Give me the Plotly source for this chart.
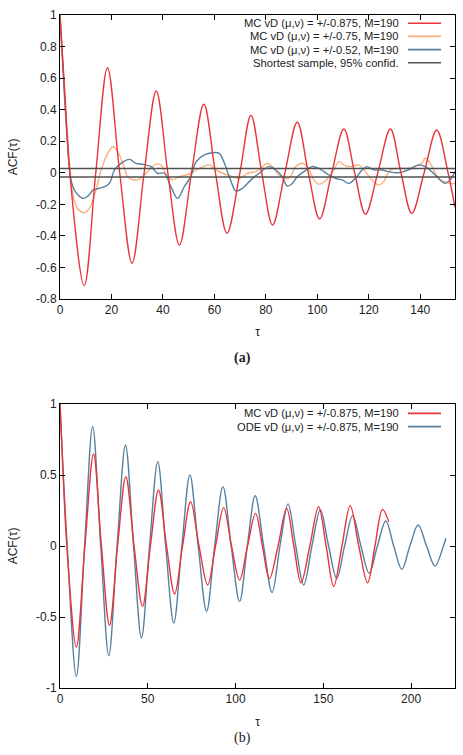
import plotly.graph_objects as go

# ---------------- data ----------------
# Panel (a)
red_a_x = [0, 1.8, 3.8, 9.4, 13.9, 18.45, 23.2, 28.0, 32.7, 37.4, 41.9, 46.4, 51.1, 55.9,
           60.4, 64.9, 69.9, 74.2, 78.4, 82.6, 87.4, 92.2, 96.5, 100.9, 105.6, 110.3,
           114.5, 118.7, 123.5, 128.4, 132.5, 136.7, 141.5, 146.4, 150.8, 153.5]
red_a_y = [1, 0.52, 0, -0.715, 0, 0.666, 0, -0.573, 0, 0.518, 0, -0.458, 0, 0.434,
           0, -0.383, 0, 0.365, 0, -0.331, 0, 0.32, 0, -0.293, 0, 0.277,
           0, -0.263, 0, 0.277, 0, -0.257, 0, 0.271, 0, -0.22]

orange_a_x = [0, 1.5, 3, 4.5, 5.5, 7, 9.5, 11, 12.1, 14, 16, 18.6, 20.5, 22.4, 24.4, 26.3,
              28.3, 30.2, 32.1, 34.7, 37.3, 39.2, 41.8, 43.7, 46.3, 48.9, 50.8, 54.2, 58,
              60.6, 63.2, 67.1, 69.7, 72.9, 76.1, 78.7, 80.6, 82.5, 85.8, 89, 91.6, 94.2,
              96.1, 98.7, 100.6, 103.2, 106.4, 108.4, 110.3, 112.9, 116.1, 118.7, 121.2,
              123.8, 125.8, 128.4, 131.6, 134.8, 138, 140.6, 141.9, 143.9, 145.8, 147.7,
              149.7, 151.6, 153.5]
orange_a_y = [1, 0.6, 0.22, -0.08, -0.17, -0.23, -0.253, -0.235, -0.204, -0.109, 0.018,
              0.124, 0.165, 0.134, 0.06, -0.025, -0.045, -0.045, -0.025, 0.018, 0.055,
              0.049, -0.025, -0.045, -0.025, -0.014, -0.003, 0.028, 0.05, 0.018, -0.003,
              -0.025, -0.035, -0.003, 0.007, 0.039, 0.06, 0.039, -0.025, -0.035, 0.039,
              0.06, 0.039, -0.045, -0.072, -0.05, 0.018, 0.071, 0.049, 0.039, 0.049, 0.007,
              -0.045, -0.077, -0.056, 0.018, 0.028, 0.028, 0.039, 0.06, 0.092, 0.06,
              -0.003, -0.045, -0.056, -0.067, -0.07]

blue_a_x = [0, 1.5, 3, 4.2, 6, 8.9, 11, 12.8, 15.4, 17.3, 19.2, 21.2, 23.7, 27, 29.5, 32.1,
            35.3, 37.9, 40.5, 43.1, 45.7, 48.3, 50.8, 52.9, 56.1, 59.3, 61.9, 63.9, 65.8,
            68.4, 70.9, 74.2, 77.4, 81.3, 83.9, 86.4, 88.3, 90.3, 92.2, 94.8, 98, 100.6,
            104.5, 107.1, 109.6, 112.2, 114.8, 117.4, 119.3, 121.9, 125.1, 127.7, 131.5,
            135.4, 139.3, 141.9, 144.5, 147.1, 149.7, 151.6, 153.5]
blue_a_y = [1, 0.55, 0.17, -0.04, -0.12, -0.162, -0.145, -0.11, -0.098, -0.088, -0.067,
            0.018, 0.06, 0.085, 0.06, 0.054, 0.04, -0.003, -0.003, -0.088, -0.162, -0.088,
            -0.025, 0.07, 0.113, 0.127, 0.123, 0.06, -0.025, -0.115, -0.098, -0.045,
            -0.003, 0.039, 0.018, -0.025, -0.084, -0.067, -0.025, 0.007, 0.039, 0.028,
            -0.014, -0.035, -0.045, -0.067, -0.035, 0.018, 0.039, 0.018, 0.018, 0.007,
            0.0, 0.018, 0.05, 0.039, 0.007, -0.035, -0.067, -0.045, 0.007]

conf_x = [0, 154]
conf_level = 0.027

# Panel (b)
mc_b_x = [0, 1.8, 3.9, 9.3, 14.2, 19.1, 23.6, 28.2, 32.8, 37.5, 42.2, 47.0, 51.5, 56.1,
          60.7, 65.3, 69.8, 74.4, 79.2, 84.1, 88.6, 93.2, 97.7, 102.3, 106.8, 111.4,
          115.3, 119.3, 124.2, 129.1, 133.2, 137.3, 142.3, 147.3, 151.6, 155.9, 160.6,
          165.3, 170.2, 175.2, 179.4, 183.7, 187.3]
mc_b_y = [1, 0.5, 0, -0.711, 0, 0.648, 0, -0.559, 0, 0.488, 0, -0.425, 0, 0.394,
          0, -0.338, 0, 0.312, 0, -0.275, 0, 0.27, 0, -0.24, 0, 0.23,
          0, -0.23, 0, 0.265, 0, -0.26, 0, 0.277, 0, -0.285, 0,
          0.284, 0, -0.26, 0, 0.258, 0.17]

ode_b_x = [0, 1.8, 4.1, 9.3, 14.0, 18.6, 23.2, 27.8, 32.5, 37.3, 41.9, 46.4, 51.0, 55.7,
           60.2, 64.8, 69.4, 74.0, 78.7, 83.5, 88.1, 92.8, 97.5, 102.3, 106.7, 111.2,
           116.0, 120.8, 125.3, 129.9, 134.3, 138.8, 143.5, 148.3, 153.0, 157.6, 162.1,
           166.7, 171.4, 176.1, 180.8, 185.6, 190.1, 194.7, 199.3, 204.0, 208.8, 213.6,
           218.4, 219.8]
ode_b_y = [1, 0.52, 0, -0.918, 0, 0.84, 0, -0.772, 0, 0.71, 0, -0.648, 0, 0.594,
           0, -0.542, 0, 0.5, 0, -0.46, 0, 0.418, 0, -0.39, 0, 0.354,
           0, -0.327, 0, 0.296, 0, -0.275, 0, 0.254, 0, -0.228, 0,
           0.214, 0, -0.192, 0, 0.176, 0, -0.164, 0, 0.148, 0, -0.141,
           0, 0.055]

ya_ticks = [-0.8, -0.6, -0.4, -0.2, 0, 0.2, 0.4, 0.6, 0.8, 1]
ya_text = ["-0.8", "-0.6", "-0.4", "-0.2", "0", "0.2", "0.4", "0.6", "0.8", "1"]
xa_ticks = [0, 20, 40, 60, 80, 100, 120, 140]
yb_ticks = [-1, -0.5, 0, 0.5, 1]
yb_text = ["-1", "-0.5", "0", "0.5", "1"]
xb_ticks = [0, 50, 100, 150, 200]

legend_a = ["MC vD (\u03bc,\u03bd) = +/-0.875, M=190",
            "MC vD (\u03bc,\u03bd) = +/-0.75, M=190",
            "MC vD (\u03bc,\u03bd) = +/-0.52, M=190",
            "Shortest sample, 95% confid."]
legend_b = ["MC vD (\u03bc,\u03bd) = +/-0.875, M=190",
            "ODE vD (\u03bc,\u03bd) = +/-0.875, M=190"]

# ---------------- style ----------------
RED = "#e8343a"
ORANGE = "#f8b07c"
BLUE = "#57809f"
GREY = "#505050"
FONT = "Liberation Sans"

fig = go.Figure()

def add(x, y, color, xa, ya, width=1.4, shape="spline"):
    fig.add_trace(go.Scatter(x=x, y=y, mode="lines", xaxis=xa, yaxis=ya,
                             line=dict(color=color, width=width, shape=shape, smoothing=1.0),
                             showlegend=False, hoverinfo="skip"))

add(orange_a_x, orange_a_y, ORANGE, "x", "y")
add(blue_a_x, blue_a_y, BLUE, "x", "y")
add(red_a_x, red_a_y, RED, "x", "y")
add(conf_x, [conf_level, conf_level], GREY, "x", "y", width=1.6, shape="linear")
add(conf_x, [-conf_level, -conf_level], GREY, "x", "y", width=1.6, shape="linear")

add(ode_b_x, ode_b_y, BLUE, "x2", "y2")
add(mc_b_x, mc_b_y, RED, "x2", "y2")

# ---------------- layout ----------------
L, R, T, B = 60, 8, 15, 67
W, H = 463, 755
ph = H - T - B

def py2paper(py):
    return (H - B - py) / ph

def px2paper(px):
    return (px - L) / (W - L - R)

axis_common = dict(showline=True, linecolor="black", linewidth=1, mirror="ticks",
                   ticks="inside", ticklen=5, tickcolor="black", showgrid=False,
                   zeroline=False, tickfont=dict(family=FONT, size=12, color="#222"),
                   title_font=dict(family=FONT, size=12, color="#222"))

fig.update_layout(
    width=W, height=H, margin=dict(l=L, r=R, t=T, b=B),
    paper_bgcolor="white", plot_bgcolor="white",
    xaxis=dict(domain=[0, 1], anchor="y", range=[0, 153.5], tickvals=xa_ticks,
               title=dict(text="\u03c4", standoff=11), **axis_common),
    yaxis=dict(domain=[py2paper(299), 1], anchor="x", range=[-0.8, 1],
               tickvals=ya_ticks, ticktext=ya_text,
               title=dict(text="ACF(\u03c4)", standoff=15), **axis_common),
    xaxis2=dict(domain=[0, 1], anchor="y2", range=[0, 225], tickvals=xb_ticks,
                title=dict(text="\u03c4", standoff=12), **axis_common),
    yaxis2=dict(domain=[0, py2paper(404)], anchor="x2", range=[-1, 1],
                tickvals=yb_ticks, ticktext=yb_text,
                title=dict(text="ACF(\u03c4)", standoff=15), **axis_common),
)

annotations = []
shapes = []

def legend_block(labels, colors, rows_py):
    for lab, col, py in zip(labels, colors, rows_py):
        annotations.append(dict(text=lab, xref="paper", yref="paper",
                                x=px2paper(400), y=py2paper(py), xanchor="right",
                                yanchor="middle", showarrow=False, borderpad=0,
                                font=dict(family=FONT, size=11.2, color="#222")))
        shapes.append(dict(type="line", xref="paper", yref="paper",
                           x0=px2paper(408), x1=px2paper(441),
                           y0=py2paper(py), y1=py2paper(py),
                           line=dict(color=col, width=1.6)))

legend_block(legend_a, [RED, ORANGE, BLUE, GREY], [23.2, 36.4, 49.6, 62.8])
legend_block(legend_b, [RED, BLUE], [413.4, 426.6])

annotations.append(dict(text="<b>(a)</b>", xref="paper", yref="paper",
                        x=px2paper(242), y=py2paper(358), showarrow=False,
                        font=dict(family="Liberation Serif", size=14, color="#222")))
annotations.append(dict(text="(b)", xref="paper", yref="paper",
                        x=px2paper(242), y=py2paper(748), showarrow=False,
                        font=dict(family="Liberation Serif", size=14, color="#222")))

fig.update_layout(annotations=annotations, shapes=shapes)

fig.write_html("out.html")
